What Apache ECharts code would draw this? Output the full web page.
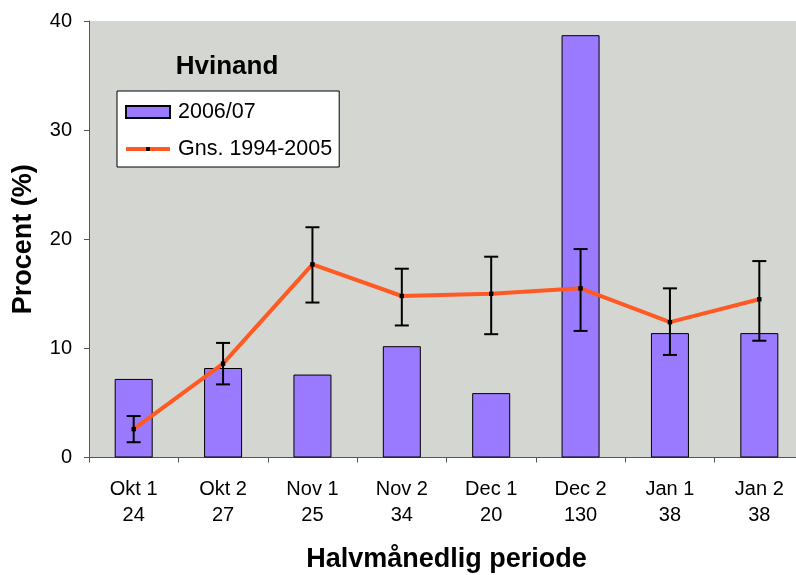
<!DOCTYPE html>
<html>
<head>
<meta charset="utf-8">
<script src="https://cdn.jsdelivr.net/npm/echarts@6/dist/echarts.min.js"></script>
<style>html,body{margin:0;padding:0;background:#fff}#c{width:796px;height:575px}</style>
</head>
<body>
<div id="c"></div>
<script>
var categories = ['Okt 1', 'Okt 2', 'Nov 1', 'Nov 2', 'Dec 1', 'Dec 2', 'Jan 1', 'Jan 2'];
var counts = [24, 27, 25, 34, 20, 130, 38, 38];
var season = [7.2, 8.2, 7.6, 10.2, 5.9, 38.7, 11.4, 11.4];
var avg = [2.6, 8.6, 17.7, 14.8, 15.0, 15.5, 12.4, 14.5];
var errLow = [1.4, 6.7, 14.2, 12.1, 11.3, 11.6, 9.4, 10.7];
var errHigh = [3.8, 10.5, 21.1, 17.3, 18.4, 19.1, 15.5, 18.0];
var yTicks = [0, 10, 20, 30, 40];

var FONT = 'Liberation Sans, Arial, sans-serif';
var errData = categories.map(function (c, i) { return [i, errLow[i], errHigh[i]]; });
// small centred square inside a larger (empty) box, so the legend dot stays small
var DOT = 'path://M0,0M10,10M3,3L7,3L7,7L3,7Z';

var chart = echarts.init(document.getElementById('c'), null, { renderer: 'canvas' });
chart.setOption({
  animation: false,
  backgroundColor: '#ffffff',
  textStyle: { fontFamily: FONT },
  title: {
    text: 'Hvinand',
    left: 222, top: 49, textAlign: 'center',
    textStyle: { fontFamily: FONT, fontSize: 26, fontWeight: 'bold', color: '#000' }
  },
  legend: {
    orient: 'vertical',
    left: 117, top: 91,
    backgroundColor: '#ffffff',
    borderColor: '#000000', borderWidth: 1,
    padding: [10, 7, 7, 7],
    itemWidth: 44, itemHeight: 12, itemGap: 15,
    lineStyle: { width: 4 },
    textStyle: { fontFamily: FONT, fontSize: 21.5, color: '#000', lineHeight: 22, padding: [0, 0, 0, 3] },
    data: [{ name: '2006/07', icon: 'rect' }, { name: 'Gns. 1994-2005' }]
  },
  grid: {
    left: 89, top: 21, width: 715, bottom: 117.5,
    outerBoundsMode: 'none', containLabel: false,
    show: true, backgroundColor: '#d4d6d1', borderWidth: 0
  },
  xAxis: {
    type: 'category',
    data: categories,
    boundaryGap: true,
    name: 'Halvmånedlig periode',
    nameLocation: 'middle', nameGap: 89,
    nameTextStyle: { fontFamily: FONT, fontSize: 27, fontWeight: 'bold', color: '#000' },
    axisLine: { lineStyle: { color: '#555', width: 1 } },
    axisTick: { show: true, length: 5, lineStyle: { color: '#555' }, alignWithLabel: false },
    axisLabel: {
      color: '#000', fontSize: 20, fontFamily: FONT, lineHeight: 26, margin: 19,
      formatter: function (v, i) { return v + '\n' + counts[i]; }
    },
    splitLine: { show: false }
  },
  yAxis: {
    type: 'value',
    min: yTicks[0], max: yTicks[yTicks.length - 1], interval: 10,
    name: 'Procent (%)',
    nameLocation: 'middle', nameGap: 52,
    nameTextStyle: { fontFamily: FONT, fontSize: 27, fontWeight: 'bold', color: '#000' },
    axisLine: { show: true, lineStyle: { color: '#555', width: 1 } },
    axisTick: { show: true, length: 5, lineStyle: { color: '#555' } },
    axisLabel: { color: '#000', fontSize: 20, fontFamily: FONT, margin: 17 },
    splitLine: { show: false }
  },
  series: [
    {
      name: '2006/07',
      type: 'bar',
      data: season,
      barWidth: 38,
      itemStyle: { color: '#9a7aff', borderColor: '#000', borderWidth: 1 },
      z: 2
    },
    {
      name: 'Gns. 1994-2005',
      type: 'line',
      data: avg,
      symbol: DOT, symbolSize: 11,
      showSymbol: true,
      itemStyle: { color: '#000' },
      lineStyle: { color: '#ff5a24', width: 4 },
      z: 3
    },
    {
      name: 'err',
      type: 'custom',
      data: errData,
      z: 4,
      renderItem: function (params, api) {
        var x = api.value(0);
        var lo = api.coord([x, api.value(1)]);
        var hi = api.coord([x, api.value(2)]);
        var hw = 7;
        var st = { stroke: '#000', lineWidth: 2 };
        return {
          type: 'group',
          children: [
            { type: 'line', shape: { x1: lo[0], y1: lo[1], x2: hi[0], y2: hi[1] }, style: st },
            { type: 'line', shape: { x1: lo[0] - hw, y1: lo[1], x2: lo[0] + hw, y2: lo[1] }, style: st },
            { type: 'line', shape: { x1: hi[0] - hw, y1: hi[1], x2: hi[0] + hw, y2: hi[1] }, style: st }
          ]
        };
      }
    }
  ]
});
</script>
</body>
</html>
